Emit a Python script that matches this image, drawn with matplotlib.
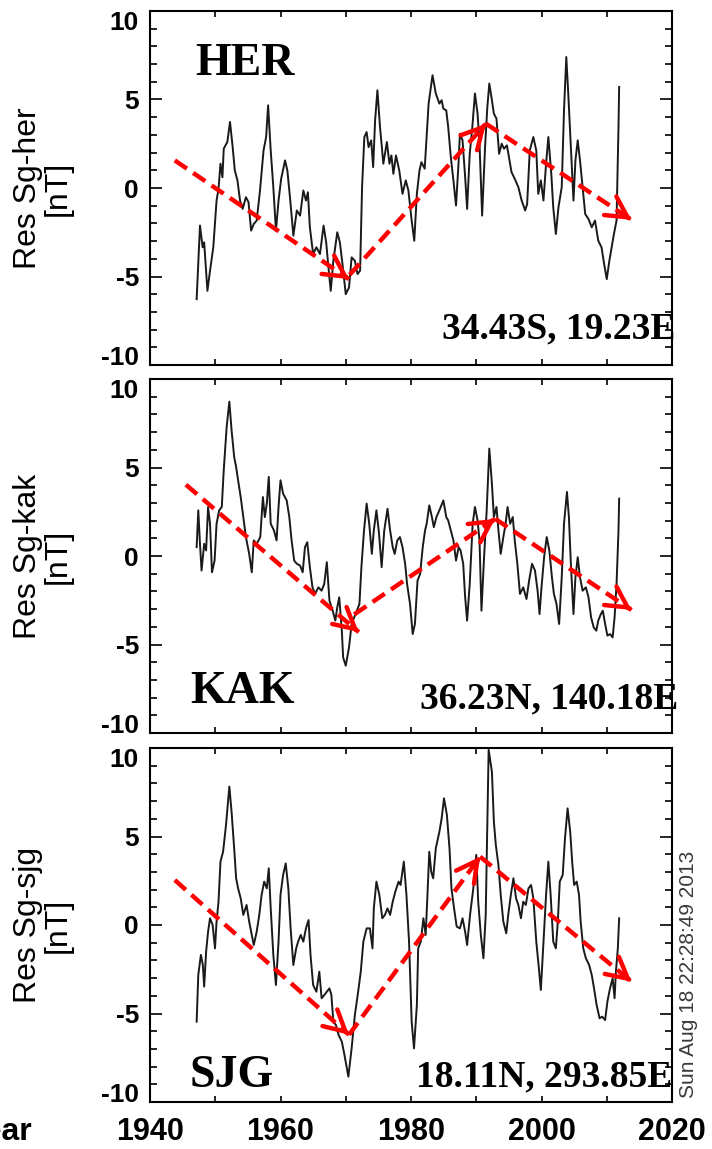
import matplotlib
matplotlib.use("Agg")
import matplotlib.pyplot as plt

# ---- residual Sq series (year, nT) ----
her_year = [1947.15, 1947.66, 1948.07, 1948.3, 1948.8, 1949.2, 1949.7, 1950.2, 1950.5, 1950.8,
            1951.1, 1951.3, 1951.85, 1952.26, 1952.67, 1953.0, 1953.4, 1953.8, 1954.2, 1954.7,
            1955.1, 1955.5, 1955.9, 1956.35, 1956.86, 1957.4, 1957.8, 1958.1, 1958.5, 1958.9,
            1959.3, 1959.7, 1960.1, 1960.7, 1961.05, 1961.5, 1961.97, 1962.5, 1963.0, 1963.5,
            1963.9, 1964.2, 1964.5, 1965.0, 1965.5, 1966.05, 1966.6, 1967.0, 1967.3, 1967.7,
            1968.1, 1968.7, 1969.1, 1969.5, 1970.0, 1970.5, 1970.9, 1971.4, 1971.8, 1972.2,
            1972.5, 1972.85, 1973.2, 1973.5, 1973.9, 1974.2, 1974.5, 1974.85, 1975.25, 1975.76,
            1976.3, 1976.7, 1977.0, 1977.3, 1977.7, 1978.2, 1978.7, 1979.2, 1979.6, 1980.1,
            1980.5, 1980.9, 1981.3, 1981.6, 1982.1, 1982.7, 1983.3, 1983.8, 1984.35, 1984.7,
            1984.96, 1985.4, 1985.7, 1986.1, 1986.5, 1986.9, 1987.25, 1987.5, 1987.9, 1988.3,
            1988.6, 1989.0, 1989.4, 1989.8, 1990.2, 1990.5, 1990.9, 1991.35, 1991.7, 1992.0,
            1992.4, 1992.7, 1993.1, 1993.5, 1993.9, 1994.25, 1994.7, 1995.1, 1995.4, 1995.9,
            1996.45, 1996.96, 1997.5, 1997.8, 1998.2, 1998.75, 1999.2, 1999.5, 1999.9, 2000.3,
            2000.7, 2001.05, 2001.5, 2001.8, 2002.2, 2002.6, 2003.1, 2003.45, 2003.8, 2004.1,
            2004.5, 2004.9, 2005.2, 2005.55, 2005.9, 2006.3, 2006.7, 2007.2, 2007.7, 2008.2,
            2008.7, 2009.2, 2009.6, 2010.0, 2010.4, 2010.75, 2011.1, 2011.5, 2011.8, 2011.9]
her_val = [-6.28, -2.12, -3.35, -3.07, -5.81, -4.67, -3.35, -0.71, -0.05, 1.37,
           0.61, 2.22, 2.6, 3.73, 2.31, 0.99, 0.43, -0.71, -1.18, -0.52,
           -0.8, -2.41, -2.03, -1.84, -0.14, 2.12, 2.88, 4.67, 2.12, 0.05,
           -2.41, -0.71, 0.52, 1.56, 0.99, -0.71, -2.69, -1.27, -1.56, -0.14,
           -0.71, -0.24, -2.22, -3.73, -3.35, -3.73, -2.12, -3.07, -4.3, -5.81,
           -4.11, -2.5, -3.07, -4.3, -6.0, -5.62, -3.92, -4.11, -4.86, -4.67,
           0.05, 2.88, 3.16, 2.31, 2.69, 1.18, 3.82, 5.52, 3.45, 1.37,
           2.6, 1.37, 1.84, 0.8, 1.84, 0.99, -0.33, 0.43, -0.14, -1.84,
           -2.98, -0.33, 0.99, 1.46, 1.09, 4.77, 6.37, 5.34, 4.77, 4.96,
           4.48, 4.39, 3.45, 1.75, 0.43, -0.99, 1.18, 3.07, 2.69, 0.61,
           -1.18, 1.93, 3.45, 5.34, 4.2, 2.5, -1.56, 2.31, 4.58, 5.9,
           4.96, 4.2, 3.92, 1.93, 2.5, 2.22, 2.41, 1.56, 0.9, 0.52,
           0.05, -0.71, -1.27, -0.9, 2.12, 2.88, 2.12, -0.33, 0.43, -0.71,
           1.37, 2.88, 0.8, -1.09, -2.6, -1.09, 0.05, 4.39, 7.4, 5.34,
           2.31, -0.71, 1.56, 2.69, 1.56, 0.05, -1.47, -1.75, -2.22, -1.84,
           -2.98, -3.35, -4.3, -5.15, -4.11, -3.35, -2.6, -1.84, 3.45, 5.71]

kak_year = [1947.15, 1947.4, 1947.66, 1947.9, 1948.3, 1948.6, 1948.9, 1949.2, 1949.5, 1949.9,
            1950.2, 1950.6, 1951.0, 1951.3, 1951.75, 1952.16, 1952.5, 1952.9, 1953.2, 1953.5,
            1953.9, 1954.3, 1954.7, 1955.2, 1955.6, 1955.9, 1956.35, 1956.9, 1957.3, 1957.6,
            1957.9, 1958.2, 1958.5, 1959.0, 1959.4, 1959.7, 1960.0, 1960.4, 1960.95, 1961.35,
            1961.7, 1962.1, 1962.5, 1963.0, 1963.4, 1963.75, 1964.1, 1964.5, 1964.9, 1965.3,
            1965.8, 1966.3, 1966.7, 1967.1, 1967.5, 1968.0, 1968.4, 1968.7, 1969.0, 1969.4,
            1969.6, 1970.0, 1970.5, 1970.9, 1971.3, 1971.7, 1972.1, 1972.4, 1972.8, 1973.2,
            1973.6, 1974.0, 1974.3, 1974.7, 1975.1, 1975.5, 1975.9, 1976.4, 1976.8, 1977.2,
            1977.5, 1977.9, 1978.3, 1978.7, 1979.1, 1979.4, 1979.85, 1980.26, 1980.6, 1981.0,
            1981.4, 1981.8, 1982.15, 1982.4, 1982.8, 1983.2, 1983.5, 1983.9, 1984.45, 1984.96,
            1985.4, 1985.7, 1986.1, 1986.5, 1986.9, 1987.3, 1987.6, 1988.0, 1988.3, 1988.6,
            1989.0, 1989.45, 1989.8, 1990.2, 1990.5, 1990.8, 1991.2, 1991.6, 1992.0, 1992.4,
            1992.7, 1993.1, 1993.4, 1993.75, 1994.15, 1994.5, 1994.8, 1995.2, 1995.6, 1995.9,
            1996.3, 1996.7, 1997.2, 1997.7, 1998.1, 1998.55, 1999.0, 1999.4, 1999.7, 2000.0,
            2000.4, 2000.8, 2001.2, 2001.6, 2001.9, 2002.3, 2002.7, 2003.1, 2003.45, 2003.9,
            2004.2, 2004.5, 2004.9, 2005.2, 2005.55, 2005.9, 2006.3, 2006.8, 2007.2, 2007.6,
            2008.0, 2008.4, 2008.7, 2009.1, 2009.4, 2009.75, 2010.1, 2010.5, 2010.9, 2011.2,
            2011.5, 2011.8, 2011.9]
kak_val = [0.5, 2.58, 0.69, -0.82, 0.69, 0.31, 2.77, 1.82, -0.92, -0.26,
           1.82, 2.58, 2.77, 4.84, 7.3, 8.72, 7.11, 5.6, 5.03, 4.28,
           3.33, 2.2, 1.07, 0.12, -0.92, 0.88, 0.69, 1.07, 3.33, 2.2,
           2.96, 4.47, 1.82, 1.44, 0.88, 2.77, 4.28, 3.52, 3.14, 2.2,
           0.88, -0.26, -0.44, -0.54, -0.92, 0.5, 0.78, -0.63, -1.77, -2.14,
           -1.77, -1.96, -1.58, -0.35, -2.52, -3.09, -3.65, -2.9, -2.33, -4.22,
           -5.73, -6.2, -5.17, -3.84, -3.47, -3.09, -2.71, -0.63, 1.44, 2.96,
           1.82, 0.12, 1.44, 2.58, 1.26, -0.63, 1.44, 2.67, 1.44, 0.5,
           0.12, 0.88, 1.07, 0.5, -0.44, -1.58, -2.71, -4.41, -3.84, -1.39,
           -1.01, 0.5, 1.44, 1.82, 2.86, 2.2, 1.63, 2.2, 2.67, 3.14,
           2.2, 2.01, 1.44, 0.88, -0.26, 0.5, 0.31, -0.44, -2.33, -3.65,
           -1.58, 1.82, 2.77, 2.01, 0.88, -3.09, -0.07, 2.58, 6.07, 4.09,
           2.2, 2.77, 1.44, 0.12, 1.07, 1.82, 2.77, 1.82, 2.2, 0.88,
           -0.44, -2.14, -1.77, -2.43, -1.39, -0.44, -0.82, -1.96, -3.28, -1.77,
           -0.07, 1.07, 0.31, -1.2, -2.14, -2.71, -3.84, -1.2, 1.82, 3.62,
           2.2, -0.44, -3.28, -1.2, -0.07, -1.2, -1.96, -1.77, -2.33, -3.47,
           -4.03, -4.22, -3.65, -3.28, -3.09, -3.84, -4.5, -4.41, -4.6, -3.47,
           -1.58, 1.44, 3.24]

sjg_year = [1947.15, 1947.4, 1947.8, 1948.1, 1948.3, 1948.6, 1948.9, 1949.2, 1949.6, 1949.96,
            1950.2, 1950.5, 1950.8, 1951.2, 1951.65, 1952.16, 1952.5, 1952.9, 1953.2, 1953.5,
            1953.9, 1954.3, 1954.8, 1955.2, 1955.6, 1955.9, 1956.35, 1956.75, 1957.1, 1957.5,
            1957.9, 1958.2, 1958.5, 1958.9, 1959.3, 1959.7, 1960.0, 1960.4, 1960.8, 1961.2,
            1961.55, 1961.97, 1962.4, 1962.7, 1963.1, 1963.5, 1963.9, 1964.3, 1964.6, 1965.0,
            1965.5, 1965.95, 1966.3, 1966.7, 1967.1, 1967.5, 1967.8, 1968.1, 1968.5, 1968.9,
            1969.4, 1969.8, 1970.4, 1970.9, 1971.4, 1971.9, 1972.3, 1972.7, 1973.2, 1973.7,
            1974.1, 1974.3, 1974.7, 1975.15, 1975.6, 1976.0, 1976.4, 1976.8, 1977.2, 1977.6,
            1978.1, 1978.4, 1978.9, 1979.3, 1979.7, 1980.1, 1980.46, 1980.9, 1981.1, 1981.5,
            1981.9, 1982.25, 1982.5, 1982.8, 1983.1, 1983.4, 1983.8, 1984.35, 1984.7, 1985.06,
            1985.5, 1985.9, 1986.2, 1986.6, 1987.0, 1987.5, 1987.9, 1988.3, 1988.6, 1989.05,
            1989.55, 1990.0, 1990.3, 1990.7, 1991.1, 1991.45, 1991.7, 1991.9, 1992.4, 1992.7,
            1993.0, 1993.4, 1993.75, 1994.15, 1994.6, 1994.9, 1995.3, 1995.7, 1996.1, 1996.45,
            1996.85, 1997.2, 1997.6, 1998.0, 1998.4, 1998.75, 1999.2, 1999.6, 1999.9, 2000.3,
            2000.7, 2001.05, 2001.4, 2001.8, 2002.2, 2002.5, 2002.8, 2003.25, 2003.6, 2004.0,
            2004.4, 2004.7, 2005.0, 2005.4, 2005.75, 2006.0, 2006.4, 2006.8, 2007.3, 2007.7,
            2008.05, 2008.45, 2008.9, 2009.3, 2009.75, 2010.1, 2010.5, 2010.9, 2011.2, 2011.4,
            2011.7, 2011.9]
sjg_val = [-5.46, -2.82, -1.69, -2.26, -3.48, -1.51, -0.38, 0.38, 0.0, -1.32,
           0.19, 1.32, 3.58, 4.14, 5.65, 7.82, 6.4, 4.33, 2.64, 2.07,
           1.51, 0.57, 1.13, 0.19, -0.56, -1.13, -0.38, 0.57, 1.7, 2.45,
           2.07, 3.2, 0.94, -1.69, -3.39, -0.94, 1.7, 2.83, 3.48, 2.07,
           -0.19, -2.26, -1.32, -0.94, -0.56, -0.94, -0.19, 0.28, -1.69, -3.39,
           -3.77, -2.64, -4.14, -3.96, -3.77, -3.58, -3.96, -5.46, -5.65, -6.21,
           -6.59, -7.34, -8.57, -6.97, -5.08, -3.77, -2.64, -0.94, -0.19, -0.19,
           -1.32, 0.94, 2.45, 1.7, 0.38, 0.57, 0.94, 0.57, 1.32, 1.89,
           2.45, 2.26, 3.58, 1.7, -0.94, -5.46, -6.97, -4.52, -1.32, -0.94,
           0.38, -0.56, 1.51, 4.14, 3.01, 2.64, 4.33, 5.27, 6.03, 7.16,
           6.22, 4.33, 2.07, 0.94, -0.09, -0.19, 0.38, -0.38, -1.13, 0.57,
           2.07, 3.96, 1.32, -0.56, -1.88, 0.57, 5.84, 9.9, 8.66, 5.84,
           4.52, 3.39, 1.7, 0.19, -0.47, 0.57, 1.7, 2.64, 1.51, 1.13,
           0.38, 1.32, 1.13, 2.07, 2.26, 1.51, -0.94, -2.45, -3.67, -0.94,
           1.7, 3.58, 1.7, -0.94, -1.32, 0.19, 2.45, 2.83, 4.9, 6.59,
           5.27, 3.58, 2.26, 2.45, 1.7, 0.19, -1.32, -1.88, -2.26, -2.82,
           -3.58, -4.52, -5.27, -5.18, -5.37, -4.33, -3.58, -3.01, -4.14, -2.64,
           -1.32, 0.38]

# trend arrows drawn by hand on the original: (year0, val0, year1, val1)
her_arrows = [(1943.8, 1.56, 1970.5, -5.15), (1970.6, -4.9, 1991.5, 3.63), (1991.5, 3.63, 2013.8, -1.8)]
kak_arrows = [(1945.5, 4.03, 1972.0, -4.3), (1971.3, -3.3, 1992.9, 2.1), (1992.9, 2.1, 2013.8, -3.05)]
sjg_arrows = [(1943.8, 2.54, 1970.5, -6.2), (1970.5, -6.2, 1990.6, 3.86), (1990.6, 3.86, 2013.8, -3.2)]

station_names = ["HER", "KAK", "SJG"]
station_coords = ["34.43S, 19.23E", "36.23N, 140.18E", "18.11N, 293.85E"]
ylabels = ["Res Sg-her\n[nT]", "Res Sg-kak\n[nT]", "Res Sg-sjg\n[nT]"]
yticks = [-10, -5, 0, 5, 10]
xticks = [1940, 1950, 1960, 1970, 1980, 1990, 2000, 2010, 2020]
xticklabels = ["1940", "", "1960", "", "1980", "", "2000", "", "2020"]

series = [(her_year, her_val, her_arrows),
          (kak_year, kak_val, kak_arrows),
          (sjg_year, sjg_val, sjg_arrows)]

SANS = "Liberation Sans"
SERIF = "Liberation Serif"

W, H = 712, 1149
fig = plt.figure(figsize=(W / 100, H / 100), dpi=100)

# panel layout in pixels: top edge of each frame, frame height
panel_top = [11, 379, 748]
panel_h = 354
ax_left, ax_w = 150, 522

# where the station name / coordinate text sits (axes fraction)
name_pos = [(0.086, 0.819), (0.077, 0.085), (0.075, 0.042)]
coord_pos = [(1.006, 0.074), (1.012, 0.068), (1.0, 0.045)]

for i, (yr, val, arrows) in enumerate(series):
    ax = fig.add_axes([ax_left / W, 1 - (panel_top[i] + panel_h) / H, ax_w / W, panel_h / H])
    ax.plot(yr, val, color="#1a1a1a", lw=1.4)

    # red dashed trends with open heads
    for x0, y0, x1, y1 in arrows:
        ax.plot([x0, x1], [y0, y1], color="#ff0000", lw=3.2,
                linestyle=(0, (3.3, 1.7)), dash_capstyle="butt")
        ax.annotate("", xy=(x1, y1), xytext=(x1 - 0.02 * (x1 - x0), y1 - 0.02 * (y1 - y0)),
                    arrowprops=dict(arrowstyle="->,head_length=0.75,head_width=0.4",
                                    color="#ff0000", lw=3.2, mutation_scale=20,
                                    shrinkA=0, shrinkB=0))

    ax.set_xlim(1940, 2020)
    ax.set_ylim(-10, 10)
    ax.set_xticks(xticks)
    ax.set_yticks(range(-10, 11), minor=True)
    ax.tick_params(direction="in", top=True, right=True, which="both", width=1.2)
    ax.tick_params(axis="y", which="major", length=8.5, pad=8)
    ax.tick_params(axis="y", which="minor", length=5)
    ax.tick_params(axis="x", which="major", length=4.5, pad=11)
    for sp in ax.spines.values():
        sp.set_linewidth(1.5)

    ax.set_yticks(yticks, [str(t) for t in yticks], fontsize=19,
                  fontweight="bold", family=SANS)
    # end labels are pulled inside the frame
    for t in ax.yaxis.get_major_ticks():
        if t.get_loc() == 10:
            t.label1.set_va("top")
        elif t.get_loc() == -10:
            t.label1.set_va("baseline")

    if i == 2:
        ax.set_xticklabels(xticklabels, fontsize=22, fontweight="bold", family=SANS)
    else:
        ax.set_xticklabels([])

    ax.set_ylabel(ylabels[i], fontsize=23, family=SANS, linespacing=1.0)
    ax.yaxis.set_label_coords(-0.1475, 0.5)

    ax.text(name_pos[i][0], name_pos[i][1], station_names[i], transform=ax.transAxes,
            fontsize=33, fontweight="bold", family=SERIF, va="baseline")
    ax.text(coord_pos[i][0], coord_pos[i][1], station_coords[i], transform=ax.transAxes,
            fontsize=27, fontweight="bold", family=SERIF, ha="right", va="baseline")

# x title is cut off at the left edge in the original
fig.text(32 / W, 1 - 1132 / H, "Year", ha="right", va="center", fontsize=23,
         fontweight="bold", family=SANS)
# IDL time stamp
fig.text(688 / W, 1 - 1098 / H, "Sun Aug 18 22:28:49 2013", rotation=90, ha="center",
         va="bottom", fontsize=15, color="#3a3a3a", family=SANS)

fig.savefig("out.png", dpi=100)
